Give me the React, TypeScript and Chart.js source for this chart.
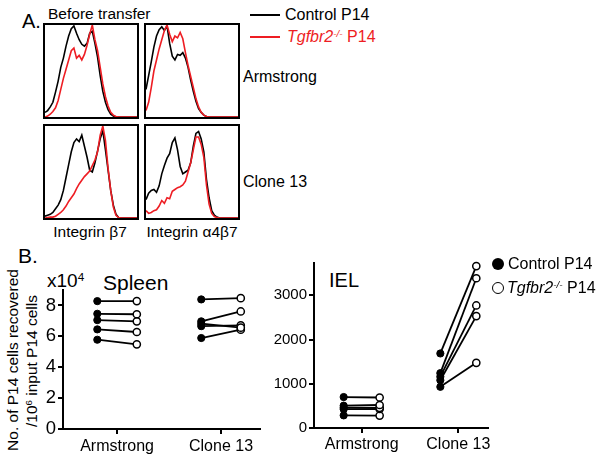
import React, { useEffect, useRef } from "react";
import { Chart, registerables } from "chart.js";
Chart.register(...registerables);

const FONT = "'Liberation Sans', Arial, Helvetica, sans-serif";
const RED = "#ee1d23";

// ---------- Panel A: flow histograms (bins of fluorescence, % of max) ----------
const histBins = [0, 1, 2, 3, 4, 5, 6, 7, 8, 9, 10, 11, 12, 13, 14, 15, 16, 17, 18, 19, 20, 21, 22, 23, 24, 25, 26, 27, 28, 29, 30, 31, 32, 33, 34, 35];

const armB7Control = [5, 7, 11, 16, 27, 39, 54, 64, 77, 88, 96, 99, 91, 84, 79, 77, 80, 91, 93, 80, 65, 45, 28, 16, 8, 3, 1, 0, 0, 0, 0, 0, 0, 0, 0, 0];
const armB7Ko = [0, 1, 3, 6, 10, 18, 30, 42, 52, 62, 72, 75, 64, 67, 62, 68, 78, 90, 100, 84, 72, 54, 36, 22, 12, 5, 2, 0.5, 0, 0, 0, 0, 0, 0, 0, 0];
const armA4B7Control = [30, 45, 60, 76, 88, 95, 98, 94, 99, 80, 66, 62, 68, 67, 70, 64, 54, 40, 28, 17, 9, 5, 2, 0.5, 0, 0, 0, 0, 0, 0, 0, 0, 0, 0, 0, 0];
const armA4B7Ko = [7, 16, 32, 50, 62, 74, 84, 94, 100, 90, 82, 88, 86, 92, 85, 70, 56, 44, 32, 20, 11, 5, 2, 0.5, 0, 0, 0, 0, 0, 0, 0, 0, 0, 0, 0, 0];
const cl13B7Control = [2, 3, 4, 6, 10, 14, 20, 30, 44, 58, 72, 82, 86, 83, 90, 78, 66, 52, 50, 60, 73, 86, 95, 74, 52, 30, 14, 4, 0.5, 0, 0, 0, 0, 0, 0, 0];
const cl13B7Ko = [0, 0.5, 1, 1, 2, 4, 6, 9, 13, 18, 22, 26, 32, 37, 41, 45, 48, 51, 57, 63, 72, 90, 100, 84, 54, 30, 12, 3, 0.5, 0, 0, 0, 0, 0, 0, 0];
const cl13A4B7Control = [20, 27, 30, 31, 28, 35, 48, 57, 65, 70, 82, 87, 74, 56, 48, 50, 52, 60, 78, 92, 94, 86, 72, 42, 22, 8, 3, 1, 0, 0, 0, 0, 0, 0, 0, 0];
const cl13A4B7Ko = [8, 5, 6, 8, 9, 13, 19, 16, 22, 21, 29, 31, 33, 34, 36, 40, 50, 60, 74, 88, 88, 80, 66, 36, 15, 5, 1.5, 0.5, 0, 0, 0, 0, 0, 0, 0, 0];

// ---------- Panel B: paired recoveries ----------
const categories = ["Armstrong", "Clone 13"];
const spleenTicks = [0, 2, 4, 6, 8];
const ielTicks = [0, 1000, 2000, 3000];

// Spleen (x10^4)
const spleenArmControl = [8.28, 7.46, 7.05, 6.45, 5.78];
const spleenArmKo = [8.28, 7.43, 6.97, 6.28, 5.48];
const spleenCl13Control = [8.39, 6.97, 6.82, 6.66, 5.89];
const spleenCl13Ko = [8.47, 7.61, 6.56, 6.71, 6.43];

// IEL
const ielArmControl = [700, 505, 460, 425, 285];
const ielArmKo = [690, 520, 455, 430, 280];
const ielCl13Control = [1685, 1240, 1160, 1080, 930];
const ielCl13Ko = [3660, 3385, 2770, 2530, 1473];

function histConfig(black: number[], red: number[]): any {
  return {
    type: "line",
    data: {
      labels: histBins,
      datasets: [
        { data: black, borderColor: "#000", borderWidth: 1.6, pointRadius: 0, tension: 0, order: 2 },
        { data: red, borderColor: RED, borderWidth: 1.6, pointRadius: 0, tension: 0, order: 1 },
      ],
    },
    options: {
      responsive: false,
      animation: false,
      events: [],
      layout: { padding: 0 },
      plugins: { legend: { display: false }, tooltip: { enabled: false } },
      scales: {
        x: { display: false, offset: false },
        y: { display: false, min: 0, max: 100 },
      },
    },
  };
}

function pairConfig(
  groups: { ctrl: number[]; ko: number[] }[],
  yMax: number,
  yTicks: number[],
  xMin: number,
  xMax: number,
  off: number,
  yFont: number,
  xPad: number
): any {
  const datasets: any[] = [];
  groups.forEach((g, gi) => {
    g.ctrl.forEach((c, k) => {
      datasets.push({
        data: [
          { x: gi + 1 - off, y: c },
          { x: gi + 1 + off, y: g.ko[k] },
        ],
        borderColor: "#000",
        borderWidth: 1.8,
        pointRadius: 3.6,
        pointBorderWidth: [1, 1.5],
        pointBackgroundColor: ["#000", "#fff"],
        pointBorderColor: "#000",
        tension: 0,
        clip: false,
      });
    });
  });
  const grid = { display: true, drawOnChartArea: false, drawTicks: true, tickLength: 5, color: "#000", lineWidth: 2 };
  const border = { display: true, color: "#000", width: 2 };
  return {
    type: "line",
    data: { datasets },
    options: {
      responsive: false,
      animation: false,
      events: [],
      layout: { padding: { top: 14, right: 20, left: 0, bottom: 0 } },
      plugins: { legend: { display: false }, tooltip: { enabled: false } },
      scales: {
        x: {
          type: "linear",
          min: xMin,
          max: xMax,
          afterBuildTicks: (s: any) => {
            s.ticks = categories.map((_, i) => ({ value: i + 1 }));
          },
          afterFit: (s: any) => {
            s.height = 30;
          },
          ticks: {
            callback: (v: any) => categories[Math.round(Number(v)) - 1] ?? "",
            color: "#000",
            font: { family: FONT, size: 16 },
            padding: xPad,
            maxRotation: 0,
            autoSkip: false,
          },
          grid,
          border,
        },
        y: {
          type: "linear",
          min: 0,
          max: yMax,
          afterBuildTicks: (s: any) => {
            s.ticks = yTicks.map((v) => ({ value: v }));
          },
          afterFit: (s: any) => {
            s.width = 45;
          },
          ticks: {
            callback: (v: any) => String(v),
            color: "#000",
            font: { family: FONT, size: yFont },
            padding: 2,
          },
          grid,
          border,
        },
      },
    },
  };
}

function ChartCanvas(props: { left: number; top: number; width: number; height: number; config: () => any }) {
  const ref = useRef<HTMLCanvasElement>(null);
  useEffect(() => {
    const chart = new Chart(ref.current as HTMLCanvasElement, props.config());
    return () => chart.destroy();
  }, []);
  return (
    <canvas
      ref={ref}
      width={props.width}
      height={props.height}
      style={{ position: "absolute", left: props.left, top: props.top, width: props.width, height: props.height }}
    />
  );
}

function HistBox(props: { left: number; top: number; black: number[]; red: number[] }) {
  const size = 96;
  return (
    <div
      style={{
        position: "absolute",
        left: props.left,
        top: props.top,
        width: size,
        height: size,
        border: "2px solid #000",
        boxSizing: "border-box",
        background: "#fff",
      }}
    >
      <ChartCanvas left={0} top={0} width={size - 4} height={size - 4} config={() => histConfig(props.black, props.red)} />
    </div>
  );
}

function Txt(props: {
  x: number;
  y: number;
  size: number;
  children: any;
  color?: string;
  italic?: boolean;
  center?: boolean;
}) {
  return (
    <div
      style={{
        position: "absolute",
        left: props.x,
        top: props.y,
        fontSize: props.size,
        lineHeight: 1,
        whiteSpace: "nowrap",
        color: props.color || "#000",
        fontStyle: props.italic ? "italic" : "normal",
        transform: props.center ? "translate(-50%,-50%)" : "translateY(-50%)",
      }}
    >
      {props.children}
    </div>
  );
}

const Sup = (p: { children: any }) => (
  <span style={{ fontSize: "0.62em", position: "relative", top: "-0.55em" }}>{p.children}</span>
);

export default function App() {
  return (
    <div
      style={{
        position: "absolute",
        left: 0,
        top: 0,
        width: 604,
        height: 464,
        overflow: "hidden",
        background: "#fff",
        fontFamily: FONT,
      }}
    >
      {/* Panel A */}
      <Txt x={22} y={21} size={20}>A.</Txt>
      <Txt x={48} y={14} size={15.5}>Before transfer</Txt>
      <HistBox left={43} top={23} black={armB7Control} red={armB7Ko} />
      <HistBox left={144} top={23} black={armA4B7Control} red={armA4B7Ko} />
      <HistBox left={43} top={124} black={cl13B7Control} red={cl13B7Ko} />
      <HistBox left={144} top={124} black={cl13A4B7Control} red={cl13A4B7Ko} />
      <Txt x={243} y={77} size={16}>Armstrong</Txt>
      <Txt x={243} y={182} size={16}>Clone 13</Txt>
      <Txt x={90} y={232} size={15.5} center>Integrin β7</Txt>
      <Txt x={192} y={232} size={15.5} center>Integrin α4β7</Txt>

      {/* Legend A */}
      <div style={{ position: "absolute", left: 250, top: 14, width: 30, height: 2, background: "#000" }} />
      <Txt x={285} y={15} size={16}>Control P14</Txt>
      <div style={{ position: "absolute", left: 250, top: 36, width: 30, height: 2, background: RED }} />
      <Txt x={287} y={37} size={16} color={RED}>
        <i>Tgfbr2</i>
        <Sup>
          <i>-/-</i>
        </Sup>{" "}
        P14
      </Txt>

      {/* Panel B */}
      <Txt x={18} y={255} size={21}>B.</Txt>
      <Txt x={13} y={360} size={15.5} center>
        <div style={{ transform: "rotate(-90deg)" }}>No. of P14 cells recovered</div>
      </Txt>
      <Txt x={32} y={361} size={15.5} center>
        <div style={{ transform: "rotate(-90deg)" }}>
          /10<Sup>6</Sup> input P14 cells
        </div>
      </Txt>
      <Txt x={47} y={280} size={19}>
        x10<Sup>4</Sup>
      </Txt>
      <Txt x={103} y={282} size={21}>Spleen</Txt>
      <Txt x={329} y={280} size={20}>IEL</Txt>

      <ChartCanvas
        left={18}
        top={276}
        width={262}
        height={183}
        config={() =>
          pairConfig(
            [
              { ctrl: spleenArmControl, ko: spleenArmKo },
              { ctrl: spleenCl13Control, ko: spleenCl13Ko },
            ],
            9,
            spleenTicks,
            0.48,
            2.375,
            0.19,
            18.5,
            3
          )
        }
      />
      <ChartCanvas
        left={269}
        top={249}
        width={239}
        height={209}
        config={() =>
          pairConfig(
            [
              { ctrl: ielArmControl, ko: ielArmKo },
              { ctrl: ielCl13Control, ko: ielCl13Ko },
            ],
            3730,
            ielTicks,
            0.507,
            2.307,
            0.186,
            15,
            2
          )
        }
      />

      {/* Legend B */}
      <div
        style={{ position: "absolute", left: 492, top: 258, width: 12, height: 12, borderRadius: "50%", background: "#000" }}
      />
      <Txt x={508} y={264} size={16}>Control P14</Txt>
      <div
        style={{
          position: "absolute",
          left: 492,
          top: 282,
          width: 12,
          height: 12,
          borderRadius: "50%",
          border: "1.5px solid #000",
          boxSizing: "border-box",
          background: "#fff",
        }}
      />
      <Txt x={507} y={288} size={16}>
        <i>Tgfbr2</i>
        <Sup>
          <i>-/-</i>
        </Sup>{" "}
        P14
      </Txt>
    </div>
  );
}
